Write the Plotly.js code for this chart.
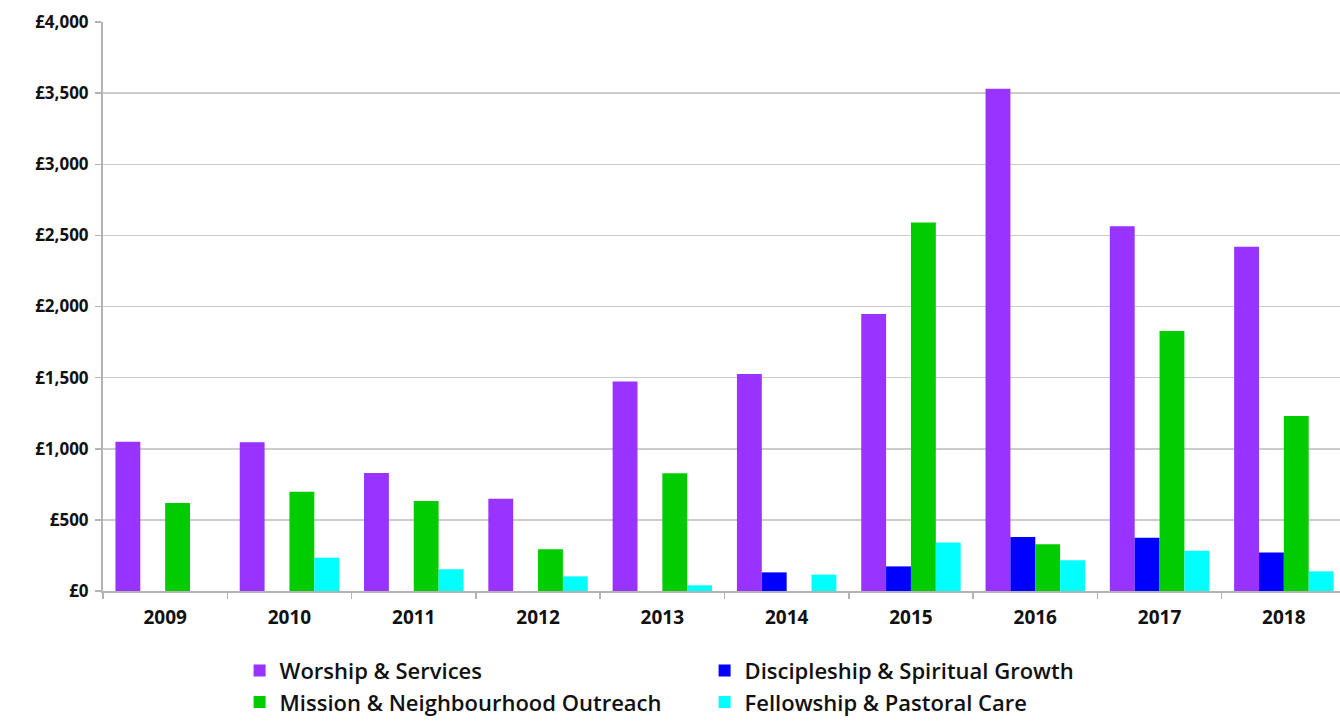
<!DOCTYPE html>
<html>
<head>
<meta charset="utf-8">
<script src="https://cdn.plot.ly/plotly-3.0.1.min.js"></script>
<style>html,body{margin:0;padding:0;background:#fff;overflow:hidden;}#chart{width:1346px;height:721px;}</style>
</head>
<body>
<div id="chart"></div>
<script>
const years = ['2009','2010','2011','2012','2013','2014','2015','2016','2017','2018'];
const worship = [1050, 1045, 830, 648, 1472, 1526, 1948, 3530, 2565, 2420];
const discipleship = [0, 0, 0, 0, 0, 131, 173, 379, 374, 271];
const mission = [618, 698, 633, 293, 828, 0, 2590, 328, 1828, 1231];
const fellowship = [0, 234, 153, 103, 40, 115, 341, 216, 283, 138];
const seriesNames = ['Worship & Services', 'Discipleship & Spiritual Growth', 'Mission & Neighbourhood Outreach', 'Fellowship & Pastoral Care'];
const seriesColors = ['#9933ff', '#0000ff', '#00cc00', '#00ffff'];
const yTicks = [0, 500, 1000, 1500, 2000, 2500, 3000, 3500, 4000];
const yTickText = yTicks.map(v => '£' + v.toLocaleString('en-GB'));

const seriesData = [worship, discipleship, mission, fellowship];
const traces = seriesData.map((vals, i) => ({
  type: 'bar',
  x: years,
  y: vals,
  name: seriesNames[i],
  marker: {color: seriesColors[i], line: {width: 0}},
  hoverinfo: 'x+y+name'
}));

const layout = {
  width: 1346, height: 721,
  margin: {l: 103, r: 0, t: 22, b: 130, autoexpand: false},
  paper_bgcolor: '#ffffff',
  plot_bgcolor: '#ffffff',
  barmode: 'group',
  bargap: 0.2,
  bargroupgap: 0,
  font: {family: 'Open Sans, DejaVu Sans, sans-serif', color: '#000'},
  xaxis: {
    type: 'category',
    tickson: 'boundaries',
    ticks: 'outside', ticklen: 6, tickcolor: '#b3b3b3', tickwidth: 1.5,
    showline: true, linecolor: '#b3b3b3', linewidth: 2,
    showgrid: false,
    ticklabelstandoff: 8,
    tickfont: {family: 'Open Sans, DejaVu Sans, sans-serif', size: 19, color: '#111', weight: 'bold'}
  },
  yaxis: {
    range: [0, 4000],
    tickmode: 'array',
    tickvals: yTicks,
    ticktext: yTickText,
    ticks: 'outside', ticklen: 6, tickcolor: '#b3b3b3', tickwidth: 1.5,
    showline: true, linecolor: '#b3b3b3', linewidth: 2,
    gridcolor: '#cccccc', gridwidth: 1.5,
    zeroline: false,
    ticklabelstandoff: 3,
    tickfont: {family: 'Open Sans, DejaVu Sans, sans-serif', size: 17, color: '#111', weight: 'bold'}
  },
  showlegend: true,
  legend: {
    orientation: 'h',
    xref: 'container', yref: 'container',
    x: 0.178, xanchor: 'left',
    y: 0.099, yanchor: 'top',
    entrywidth: 420,
    entrywidthmode: 'pixels',
    traceorder: 'normal',
    itemwidth: 30,
    tracegroupgap: 0,
    font: {family: 'Open Sans, DejaVu Sans, sans-serif', size: 22, color: '#111', weight: 600},
    bgcolor: 'rgba(0,0,0,0)'
  }
};

Plotly.newPlot('chart', traces, layout, {displayModeBar: false, staticPlot: true});
</script>
</body>
</html>
